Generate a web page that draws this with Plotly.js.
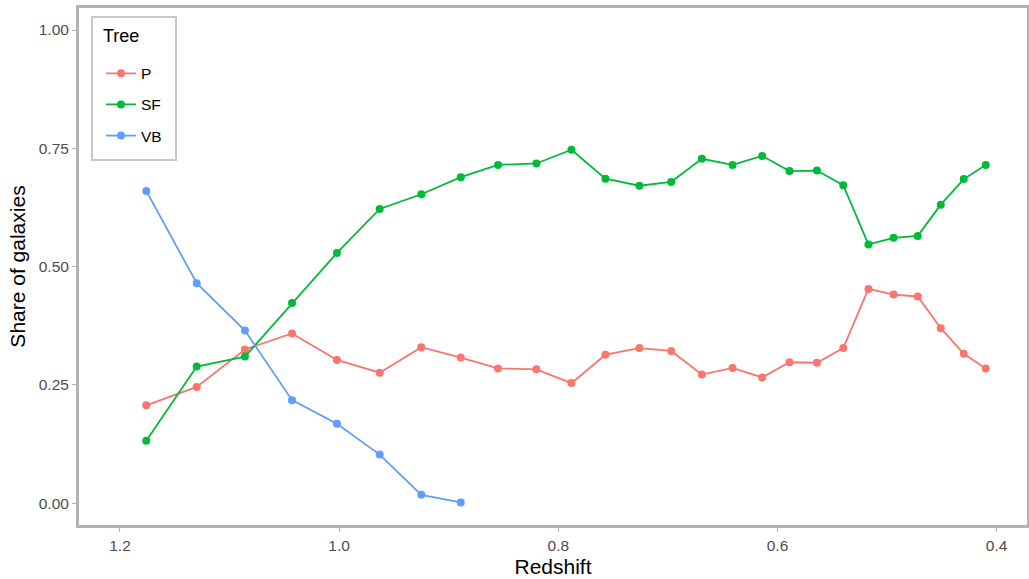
<!DOCTYPE html>
<html>
<head>
<meta charset="utf-8">
<script src="https://cdn.plot.ly/plotly-3.0.1.min.js"></script>
<style>html,body{margin:0;padding:0;background:#fff;}#chart{width:1029px;height:579px;}</style>
</head>
<body>
<div id="chart"></div>
<script>
const redshift = [1.176, 1.130, 1.086, 1.043, 1.002, 0.963, 0.925, 0.889, 0.855, 0.820, 0.788, 0.757, 0.726, 0.697, 0.669, 0.641, 0.614, 0.589, 0.564, 0.540, 0.517, 0.494, 0.472, 0.451, 0.430, 0.410];
const shareP  = [0.207, 0.246, 0.325, 0.359, 0.303, 0.276, 0.330, 0.308, 0.285, 0.283, 0.254, 0.314, 0.328, 0.322, 0.272, 0.286, 0.266, 0.298, 0.297, 0.328, 0.453, 0.441, 0.437, 0.370, 0.316, 0.285];
const shareSF = [0.132, 0.289, 0.310, 0.423, 0.529, 0.622, 0.653, 0.689, 0.715, 0.718, 0.747, 0.686, 0.671, 0.679, 0.728, 0.715, 0.734, 0.702, 0.703, 0.672, 0.547, 0.561, 0.565, 0.631, 0.685, 0.715];
const redshiftVB = [1.176, 1.130, 1.086, 1.043, 1.002, 0.963, 0.925, 0.889];
const shareVB = [0.660, 0.465, 0.365, 0.218, 0.168, 0.103, 0.018, 0.002];
const seriesNames = ["P", "SF", "VB"];
const seriesColors = ["#F8766D", "#00BA38", "#619CFF"];
const xTicks = [1.2, 1.0, 0.8, 0.6, 0.4];
const yTicks = [0, 0.25, 0.5, 0.75, 1.0];

const xs = [redshift, redshift, redshiftVB];
const ys = [shareP, shareSF, shareVB];
const traces = seriesNames.map((n, i) => ({
  x: xs[i], y: ys[i], name: n, type: 'scatter', mode: 'lines+markers',
  legendgroup: n,
  line: {color: seriesColors[i], width: 1.8},
  marker: {color: seriesColors[i], size: 8}
}));

const layout = {
  width: 1029, height: 579,
  margin: {l: 79, r: 2, t: 8, b: 54},
  paper_bgcolor: '#ffffff', plot_bgcolor: '#ffffff',
  font: {family: 'Liberation Sans, Arial, sans-serif', color: '#000'},
  xaxis: {
    range: [1.2374, 0.3723], tickvals: xTicks, tickformat: '.1f',
    showgrid: false, zeroline: false,
    showline: true, mirror: true, linecolor: '#b3b3b3', linewidth: 3,
    ticks: 'outside', ticklen: 4, tickcolor: '#b3b3b3', tickwidth: 1,
    tickfont: {size: 15.5, color: '#4d4d4d'},
    title: {text: 'Redshift', font: {size: 21, color: '#000'}, standoff: 7}
  },
  yaxis: {
    range: [-0.0458, 1.0465], tickvals: yTicks, tickformat: '.2f',
    showgrid: false, zeroline: false,
    showline: true, mirror: true, linecolor: '#b3b3b3', linewidth: 3,
    ticks: 'outside', ticklen: 4, tickcolor: '#b3b3b3', tickwidth: 1,
    tickfont: {size: 15.5, color: '#4d4d4d'},
    title: {text: 'Share of galaxies', font: {size: 21, color: '#000'}, standoff: 8}
  },
  legend: {
    x: 0.0137, y: 0.9636, xanchor: 'left', yanchor: 'top',
    bgcolor: 'rgba(0,0,0,0)', borderwidth: 0,
    title: {text: '<span style="font-size:16px">&nbsp;&nbsp;</span><span style="font-size:18px">Tree</span><br> ', font: {size: 11.5, color: '#000'}},
    font: {size: 15.5, color: '#000'},
    tracegroupgap: 8, itemwidth: 30, indentation: 9
  },
  shapes: [{
    type: 'rect', xref: 'paper', yref: 'paper', layer: 'below',
    x0: 0.0137, x1: 0.1023, y0: 0.7060, y1: 0.9826,
    line: {color: '#c8c8c8', width: 2}, fillcolor: '#ffffff'
  }],
  showlegend: true
};

Plotly.newPlot('chart', traces, layout, {displayModeBar: false, staticPlot: true});
</script>
</body>
</html>
